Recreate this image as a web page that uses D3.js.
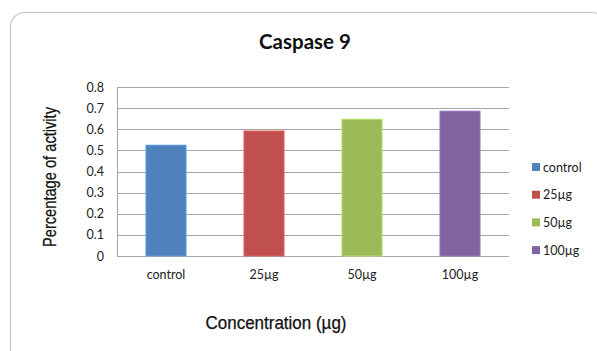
<!DOCTYPE html>
<html>
<head>
<meta charset="utf-8">
<script src="https://cdn.jsdelivr.net/npm/d3@7"></script>
<style>
  html, body { margin: 0; padding: 0; background: #fff; }
  svg { display: block; }
</style>
</head>
<body>
<svg id="chart" width="597" height="351"></svg>
<script>
// Caspase 9 activity by concentration
const categories = ["control", "25µg", "50µg", "100µg"];
const values = [0.525, 0.592, 0.648, 0.686];
const colors = ["#4F81BD", "#C0504D", "#9BBB59", "#8064A2"];
const yTicks = [0, 0.1, 0.2, 0.3, 0.4, 0.5, 0.6, 0.7, 0.8];

const svg = d3.select("#chart");
const plot = { left: 117, right: 509, top: 87, bottom: 256 };

// outer chart frame with rounded corners
svg.append("rect")
  .attr("x", 10.5).attr("y", 12.5)
  .attr("width", 595).attr("height", 360)
  .attr("rx", 14).attr("ry", 14)
  .attr("fill", "#fff")
  .attr("stroke", "#c4c4c4").attr("stroke-width", 1.2);

const x = d3.scaleBand()
  .domain(categories)
  .range([plot.left, plot.right])
  .paddingInner(0.59).paddingOuter(0.295);

const y = d3.scaleLinear().domain([0, 0.8]).range([plot.bottom, plot.top]);

// horizontal gridlines
svg.append("g").selectAll("line")
  .data(yTicks)
  .join("line")
  .attr("x1", plot.left).attr("x2", plot.right)
  .attr("y1", d => Math.round(y(d)) + 0.5).attr("y2", d => Math.round(y(d)) + 0.5)
  .attr("stroke", "#a6a6a6").attr("stroke-width", 1);

// vertical axis line
svg.append("line")
  .attr("x1", plot.left + 0.5).attr("x2", plot.left + 0.5)
  .attr("y1", plot.top).attr("y2", plot.bottom + 1)
  .attr("stroke", "#a6a6a6");

// bars with a faint lighter edge
svg.append("g").selectAll("rect")
  .data(categories)
  .join("rect")
  .attr("x", d => x(d))
  .attr("width", x.bandwidth())
  .attr("y", (d, i) => y(values[i]))
  .attr("height", (d, i) => y(0) - y(values[i]))
  .attr("fill", (d, i) => colors[i])
  .attr("stroke", (d, i) => d3.color(colors[i]).brighter(0.6))
  .attr("stroke-width", 0.8);

// y axis tick labels
const yAxis = d3.axisLeft(y).tickValues(yTicks).tickSize(0).tickPadding(13)
  .tickFormat(d => d === 0 ? "0" : d3.format(".1f")(d));
const gy = svg.append("g").attr("transform", `translate(${plot.left},0)`).call(yAxis);
gy.select(".domain").remove();
gy.selectAll("text")
  .attr("font-family", "Lato, 'Open Sans', sans-serif")
  .attr("font-size", 12.5).attr("fill", "#222");

// x axis tick labels
const xAxis = d3.axisBottom(x).tickSize(0).tickPadding(14);
const gx = svg.append("g").attr("transform", `translate(0,${plot.bottom})`).call(xAxis);
gx.select(".domain").remove();
gx.selectAll("text")
  .attr("font-family", "Lato, 'Open Sans', sans-serif")
  .attr("font-size", 12.5).attr("fill", "#222");

// title
svg.append("text")
  .attr("x", 305).attr("y", 49)
  .attr("text-anchor", "middle")
  .attr("font-family", "Lato, 'Open Sans', sans-serif")
  .attr("font-weight", "bold").attr("font-size", 20.5)
  .attr("fill", "#111")
  .text("Caspase 9");

// axis titles in a condensed face
svg.append("text")
  .attr("transform", "translate(56,177) rotate(-90)")
  .attr("text-anchor", "middle")
  .attr("font-family", "'Liberation Sans', Arial, sans-serif")
  .attr("font-size", 17.5).attr("fill", "#111")
  .attr("stroke", "#111").attr("stroke-width", 0.25)
  .attr("textLength", 140).attr("lengthAdjust", "spacingAndGlyphs")
  .text("Percentage of activity");

svg.append("text")
  .attr("x", 276).attr("y", 329)
  .attr("text-anchor", "middle")
  .attr("font-family", "'Liberation Sans', Arial, sans-serif")
  .attr("font-size", 18).attr("fill", "#111")
  .attr("stroke", "#111").attr("stroke-width", 0.25)
  .attr("textLength", 141).attr("lengthAdjust", "spacingAndGlyphs")
  .text("Concentration (µg)");

// legend
const legend = svg.append("g").selectAll("g")
  .data(categories)
  .join("g")
  .attr("transform", (d, i) => `translate(532,${167 + i * 27.7})`);
legend.append("rect")
  .attr("x", 0).attr("y", -4).attr("width", 8).attr("height", 8)
  .attr("fill", (d, i) => colors[i]);
legend.append("text")
  .attr("x", 11).attr("y", 4.5)
  .attr("font-family", "Lato, 'Open Sans', sans-serif")
  .attr("font-size", 12.5).attr("fill", "#222")
  .text(d => d);
</script>
</body>
</html>
